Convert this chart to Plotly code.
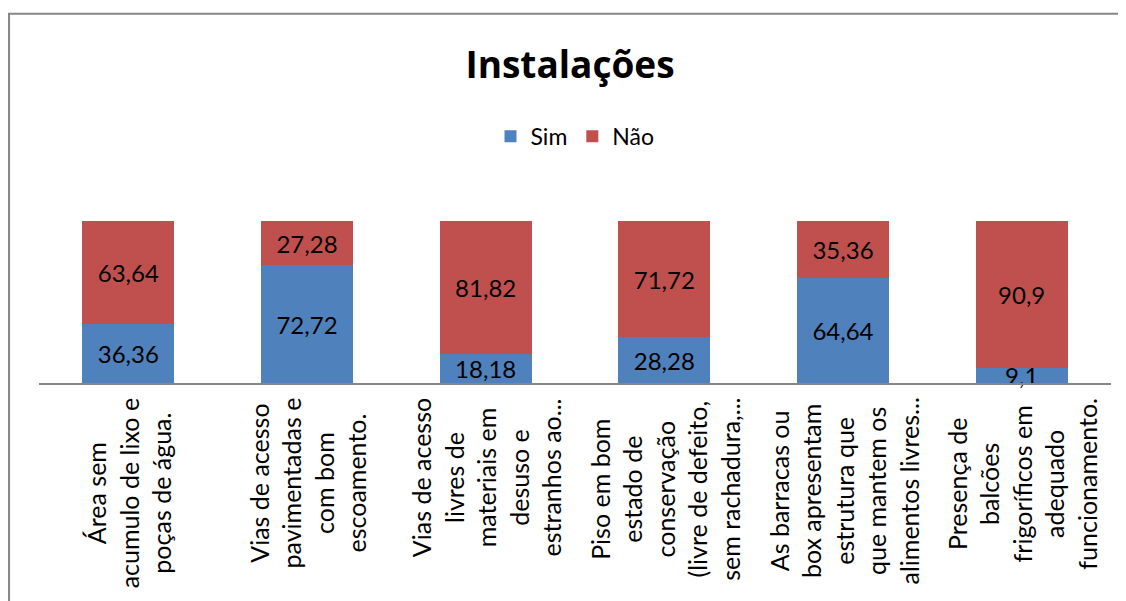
import plotly.graph_objects as go

categories = [
    "Área sem<br>acumulo de lixo e<br>poças de água.",
    "Vias de acesso<br>pavimentadas e<br>com bom<br>escoamento.",
    "Vias de acesso<br>livres de<br>materiais em<br>desuso e<br>estranhos ao...",
    "Piso em bom<br>estado de<br>conservação<br>(livre de defeito,<br>sem rachadura,...",
    "As barracas ou<br>box apresentam<br>estrutura que<br>que mantem os<br>alimentos livres...",
    "Presença de<br>balcões<br>frigoríficos em<br>adequado<br>funcionamento.",
]
sim = [36.36, 72.72, 18.18, 28.28, 64.64, 9.1]
nao = [63.64, 27.28, 81.82, 71.72, 35.36, 90.9]
series_names = ["Sim", "Não"]
title_text = "Instalações"

W, H = 1126, 601
ML, MR, MT, MB = 30.5, 22.5, 213, 225.5
PW, PH = W - ML - MR, H - MT - MB
FONT = "Lato"


def px_x(x):
    return (x - ML) / PW


def px_y(y):
    return (H - MB - y) / PH


def fmt(v):
    return ("%g" % v).replace(".", ",")


xs = list(range(len(categories)))

fig = go.Figure()
for name, vals, color in [(series_names[0], sim, "#4F81BD"), (series_names[1], nao, "#C0504D")]:
    fig.add_trace(go.Bar(
        x=xs, y=vals, name=name,
        marker=dict(color=color, line=dict(width=0)),
        text=[fmt(v) for v in vals],
        textposition="inside",
        insidetextanchor="middle",
        constraintext="none",
        textfont=dict(family=FONT, size=24, color="black"),
        cliponaxis=False,
    ))

for i, c in enumerate(categories):
    fig.add_annotation(
        x=xs[i], xref="x", y=0, yref="paper", yanchor="top", xanchor="center",
        yshift=-13, text=c, textangle=-90, align="center", showarrow=False,
        font=dict(family=FONT, size=25, color="black"),
    )

fig.add_shape(type="rect", xref="paper", yref="paper",
              x0=px_x(0.5), x1=px_x(1140), y0=px_y(620), y1=px_y(5),
              line=dict(color="#868686", width=2), fillcolor="rgba(0,0,0,0)", layer="below")

fig.update_layout(
    width=W, height=H,
    margin=dict(l=ML, r=MR, t=MT, b=MB, pad=0),
    barmode="stack", bargap=0.486,
    paper_bgcolor="white", plot_bgcolor="white",
    title=dict(text="<b>" + title_text + "</b>", x=562 / W, xanchor="center",
               y=1 - 57 / H, yanchor="middle", yref="container",
               font=dict(family="Open Sans", size=37, color="black")),
    legend=dict(orientation="h", x=0.5, xanchor="center", y=px_y(128), yanchor="middle",
                font=dict(family=FONT, size=23, color="black"), traceorder="normal",
                itemwidth=30, bgcolor="rgba(0,0,0,0)"),
    xaxis=dict(range=[-0.5, len(categories) - 0.5], showticklabels=False, ticks="",
               showline=True, linecolor="#868686", linewidth=2, showgrid=False, zeroline=False,
               fixedrange=True),
    yaxis=dict(range=[0, 100], visible=False, showgrid=False, zeroline=False, fixedrange=True),
    showlegend=True,
)

fig.write_html("out.html")
